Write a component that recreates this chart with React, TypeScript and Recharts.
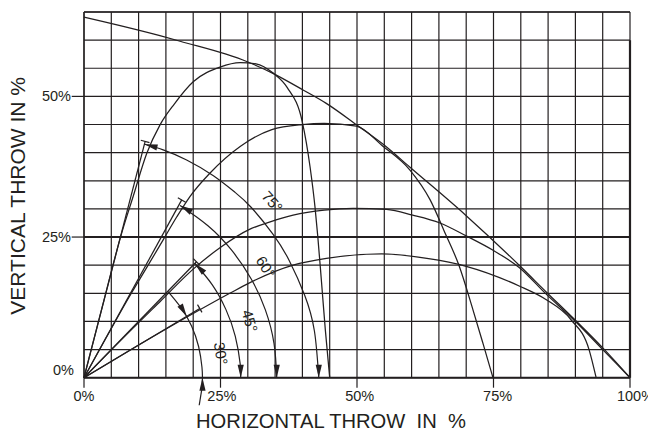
import React from "react";
import {
  CartesianGrid,
  ComposedChart,
  Line,
  ReferenceDot,
  ReferenceLine,
  XAxis,
  YAxis,
} from "recharts";

const INK = "#231f20";
const FONT = "'Liberation Sans', Arial, sans-serif";

// grid every 5 %, labels every 25 %
const X_GRID = [0, 5, 10, 15, 20, 25, 30, 35, 40, 45, 50, 55, 60, 65, 70, 75, 80, 85, 90, 95, 100];
const Y_GRID = [0, 5, 10, 15, 20, 25, 30, 35, 40, 45, 50, 55, 60, 65];
const X_LABELS = [0, 25, 50, 75, 100];
const Y_LABELS = [0, 25, 50];

// envelope of maximum throw
const ENVELOPE = [
  [0, 64.1], [13.9, 60.8], [17.6, 59.8], [29.8, 56.2], [34.6, 54.1], [40.2, 51.1],
  [44.3, 48.8], [50.4, 44.6], [55.3, 41.1], [59.6, 37.5], [70, 28.8], [79.9, 19.8],
  [84.7, 15.2], [90, 10.2], [95.1, 5.2], [100, 0],
];

// trajectories
const TRAJ_75 = [
  [0, 0], [3.4, 12.8], [6.9, 25.7], [9.0, 32.2], [11.5, 39.9], [13.9, 44.9], [16.5, 48.6],
  [20.0, 52.6], [24.9, 55.2], [28.6, 56.0], [31.5, 55.8], [34.7, 54.1], [37.2, 51.6],
  [40.0, 45.4], [41.4, 37.5], [42.3, 30.4], [42.8, 25.3], [43.5, 17.0], [44.2, 8.5], [45.0, 0],
];
const TRAJ_60 = [
  [0, 0], [4, 7.0], [8, 13.9], [11.5, 19.6], [14.5, 24.5], [17.0, 28.6], [19.4, 32.2],
  [23.0, 36.3], [28.6, 41.1], [34.4, 44.1], [40.0, 45.0], [44.0, 45.2], [49.9, 44.7],
  [54.8, 41.1], [59.7, 36.9], [63.4, 31.6], [66.0, 26.0], [68.7, 19.9], [71.2, 12.2],
  [73.1, 6.0], [74.9, 0],
];
const TRAJ_45 = [
  [0, 0], [7, 6.9], [14, 13.6], [20, 19.3], [24.9, 23.1], [30.4, 26.4], [34.1, 27.7],
  [38.3, 28.9], [44, 29.8], [49.3, 30.1], [55.4, 29.9], [60.2, 28.9], [65.2, 27.5],
  [70, 25.2], [75, 22.6], [79.7, 19.6], [84.6, 14.9], [90.1, 9.9], [95, 5.0], [100, 0],
];
const TRAJ_30 = [
  [0, 0], [10, 5.8], [20, 11.4], [26.7, 15.0], [30.4, 16.9], [38.3, 20.0], [44.4, 21.2],
  [54.5, 22.0], [62.8, 21.2], [70.0, 19.8], [79.7, 16.3], [84.6, 13.9], [89.2, 10.3],
  [92.5, 5.0], [93.8, 0],
];

// launch directions and where their lines end
const LAUNCH_ANGLES = [75, 60, 45, 30];
const LAUNCH_TIPS = [[11.2, 42.0], [17.9, 31.6], [20.6, 20.6], [21.2, 12.3]];

// angle dimension arcs
const ARC_75 = [
  [11.1, 41.5], [14.5, 40.5], [18.8, 38.7], [23.7, 35.9], [27.6, 33.0], [30.6, 30.3],
  [34.7, 25.4], [37.6, 20.8], [40.4, 14.7], [42.2, 8.3], [43.0, 0],
];
const ARC_60 = [[17.6, 30.6], [22.7, 27.0], [27.0, 22.7], [30.6, 17.6], [33.2, 12.1], [34.8, 6.1], [35.3, 0]];
const ARC_45 = [[20.3, 20.3], [23.5, 16.5], [26.0, 12.1], [27.7, 7.4], [28.6, 2.5], [28.7, 0]];
const ARC_30 = [
  [15.4, 15.3], [17.8, 12.4], [19.7, 9.2], [21.0, 5.5], [21.6, 1.9], [21.7, 0],
  [21.6, -1.9], [21.1, -4.9],
];

// arrow tips: x, y, heading in degrees (0 = right, 90 = down)
const ARROWS = [
  [11.1, 41.5, -165], [43.0, 0, 90],
  [17.6, 30.6, -150], [35.3, 0, 90],
  [20.3, 20.3, -135], [28.7, 0, 90],
  [18.8, 10.9, 60], [21.7, 0, -90],
];

const ANGLE_LABELS = ["75°", "60°", "45°", "30°"];
const LABEL_POS = [[34.5, 31.3], [33.3, 19.7], [30.4, 10.1], [25.1, 4.3]];
const LABEL_TILT = [48, 58, 74, 80];

const pts = (a: number[][]) => a.map(([x, y]) => ({ x, y }));

const XTick = (props: any) => {
  const { x, y, payload } = props;
  const v = payload.value;
  if (!X_LABELS.includes(v)) return <g />;
  return (
    <g>
      <line x1={x} y1={y} x2={x} y2={y + 10} stroke={INK} strokeWidth={1.2} />
      <text x={x + v * 0.055} y={y + 23.5} textAnchor="middle" fontSize={14.5} fontFamily={FONT} fill={INK}>
        {v}%
      </text>
    </g>
  );
};

const YTick = (props: any) => {
  const { x, y, payload } = props;
  const v = payload.value;
  if (!Y_LABELS.includes(v)) return <g />;
  const zero = v === 0;
  return (
    <g>
      {!zero && <line x1={x - 12.3} y1={y} x2={x} y2={y} stroke={INK} strokeWidth={1.2} />}
      <text
        x={zero ? x - 10 : x - 13}
        y={zero ? y - 7.4 : y}
        textAnchor="end"
        dominantBaseline="central"
        fontSize={14.5}
        fontFamily={FONT}
        fill={INK}
      >
        {v}%
      </text>
    </g>
  );
};

const XTitle = (props: any) => {
  const vb = props.viewBox || { x: 84, y: 377.7, width: 546, height: 54.3 };
  return (
    <text
      x={vb.x + vb.width / 2 - 26}
      y={vb.y + 49.8}
      textAnchor="middle"
      fontSize={20.2}
      fontFamily={FONT}
      fill={INK}
      style={{ whiteSpace: "pre" }}
    >
      {"HORIZONTAL THROW  IN  %"}
    </text>
  );
};

const YTitle = (props: any) => {
  const vb = props.viewBox || { x: 0, y: 12, width: 84, height: 365.7 };
  const x = vb.x + 25;
  const y = vb.y + vb.height / 2 + 1;
  return (
    <text x={x} y={y} transform={`rotate(-90 ${x} ${y})`} textAnchor="middle" fontSize={21} fontFamily={FONT} fill={INK}>
      VERTICAL THROW IN %
    </text>
  );
};

export default function App() {
  const arc30Above = ARC_30.filter((p) => p[1] >= 0);
  const arc30Tail: number[][][] = [];
  for (let i = 1; i < ARC_30.length; i++) {
    if (ARC_30[i][1] < 0) arc30Tail.push([ARC_30[i - 1], ARC_30[i]]);
  }

  const curves = [ENVELOPE, TRAJ_75, TRAJ_60, TRAJ_45, TRAJ_30];
  const arcs = [ARC_75, ARC_60, ARC_45, arc30Above];

  return (
    <div style={{ width: 656, height: 432, margin: "-8px 0 0 -8px", background: "#fff" }}>
      <ComposedChart width={656} height={432} margin={{ top: 12, right: 26, bottom: 0, left: 0 }}>
        <CartesianGrid stroke={INK} strokeWidth={1.2} />
        <XAxis
          type="number"
          dataKey="x"
          domain={[0, 100]}
          ticks={X_GRID}
          interval={0}
          tick={XTick}
          tickLine={false}
          axisLine={false}
          tickSize={0}
          tickMargin={0}
          height={54.3}
          label={XTitle}
        />
        <YAxis
          type="number"
          domain={[0, 65]}
          ticks={Y_GRID}
          interval={0}
          tick={YTick}
          tickLine={false}
          axisLine={false}
          tickSize={0}
          tickMargin={0}
          width={84}
          label={YTitle}
        />
        <ReferenceLine x={0} stroke={INK} strokeWidth={1.3} />
        <ReferenceLine y={65} stroke={INK} strokeWidth={1.3} />
        <ReferenceLine y={25} stroke={INK} strokeWidth={2.1} />
        <ReferenceLine y={0} stroke={INK} strokeWidth={2.1} />
        <ReferenceLine segment={[{ x: 100, y: 0 }, { x: 100, y: 60 }]} stroke={INK} strokeWidth={2.2} />

        {curves.map((c, i) => (
          <Line
            key={`c${i}`}
            data={pts(c)}
            dataKey="y"
            type="monotone"
            stroke={INK}
            strokeWidth={1.25}
            dot={false}
            activeDot={false}
            isAnimationActive={false}
            legendType="none"
          />
        ))}
        {LAUNCH_TIPS.map((t, i) => (
          <Line
            key={`l${i}`}
            data={pts([[0, 0], t])}
            dataKey="y"
            type="linear"
            stroke={INK}
            strokeWidth={1.25}
            dot={false}
            activeDot={false}
            isAnimationActive={false}
            legendType="none"
          />
        ))}
        {arcs.map((a, i) => (
          <Line
            key={`a${i}`}
            data={pts(a)}
            dataKey="y"
            type="natural"
            stroke={INK}
            strokeWidth={1.2}
            dot={false}
            activeDot={false}
            isAnimationActive={false}
            legendType="none"
          />
        ))}
        {arc30Tail.map((s, i) => (
          <ReferenceLine
            key={`t${i}`}
            segment={[{ x: s[0][0], y: s[0][1] }, { x: s[1][0], y: s[1][1] }]}
            stroke={INK}
            strokeWidth={1.2}
            ifOverflow="visible"
          />
        ))}
        {LAUNCH_TIPS.map((t, i) => (
          <ReferenceDot
            key={`k${i}`}
            x={t[0]}
            y={t[1]}
            r={0}
            ifOverflow="visible"
            shape={(p: any) => (
              <line
                x1={-4.5}
                y1={0}
                x2={4.5}
                y2={0}
                stroke={INK}
                strokeWidth={1.2}
                transform={`translate(${p.cx},${p.cy}) rotate(${90 - LAUNCH_ANGLES[i]})`}
              />
            )}
          />
        ))}
        {ARROWS.map((a, i) => (
          <ReferenceDot
            key={`r${i}`}
            x={a[0]}
            y={a[1]}
            r={0}
            ifOverflow="visible"
            shape={(p: any) => (
              <polygon
                points="0,0 -13,-3.1 -13,3.1"
                fill={INK}
                transform={`translate(${p.cx},${p.cy}) rotate(${a[2]})`}
              />
            )}
          />
        ))}
        {ANGLE_LABELS.map((txt, i) => (
          <ReferenceDot
            key={`g${i}`}
            x={LABEL_POS[i][0]}
            y={LABEL_POS[i][1]}
            r={0}
            ifOverflow="visible"
            shape={(p: any) => (
              <text
                x={p.cx}
                y={p.cy}
                textAnchor="middle"
                dominantBaseline="central"
                fontSize={15}
                fontFamily={FONT}
                fill={INK}
                transform={`rotate(${LABEL_TILT[i]} ${p.cx} ${p.cy})`}
              >
                {txt}
              </text>
            )}
          />
        ))}
      </ComposedChart>
    </div>
  );
}
